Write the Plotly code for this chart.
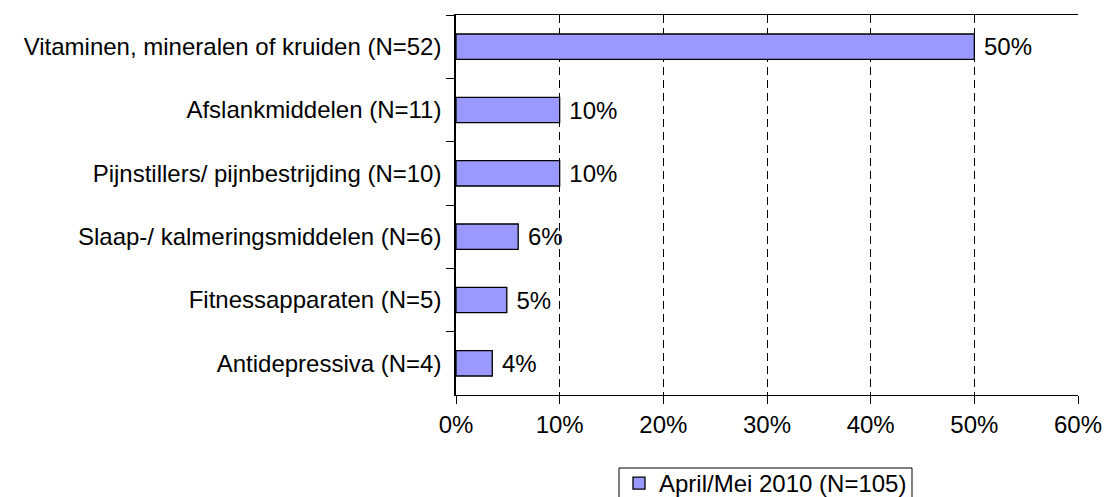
import plotly.graph_objects as go

categories = [
    "Vitaminen, mineralen of kruiden (N=52)",
    "Afslankmiddelen (N=11)",
    "Pijnstillers/ pijnbestrijding (N=10)",
    "Slaap-/ kalmeringsmiddelen (N=6)",
    "Fitnessapparaten (N=5)",
    "Antidepressiva (N=4)",
]
values = [50, 10, 10, 6, 4.9, 3.5]
labels = ["50%", "10%", "10%", "6%", "5%", "4%"]
series_name = "April/Mei 2010 (N=105)"
x_tickvals = [0, 10, 20, 30, 40, 50, 60]
x_ticktext = ["0%", "10%", "20%", "30%", "40%", "50%", "60%"]

FONT = "Liberation Sans, Arial, sans-serif"
PL, PR, PT, PB = 456, 1078, 15, 395
PW, PH = PR - PL, PB - PT

fig = go.Figure()
fig.add_trace(go.Bar(
    y=categories,
    x=values,
    orientation="h",
    name=series_name,
    marker=dict(color="#9999FF", line=dict(color="black", width=1.3)),
    text=labels,
    texttemplate=" %{text}",
    textposition="outside",
    constraintext="none",
    textfont=dict(family=FONT, size=24, color="black"),
    cliponaxis=False,
))

# legend frame (open at the bottom edge like the reference)
fig.add_shape(
    type="rect", xref="paper", yref="paper",
    x0=(619 - PL) / PW, x1=(912 - PL) / PW,
    y0=(PB - 505) / PH, y1=(PB - 468) / PH,
    line=dict(color="black", width=1), fillcolor="rgba(0,0,0,0)",
)

fig.update_layout(
    width=1105,
    height=497,
    margin=dict(l=PL, r=1105 - PR, t=PT, b=497 - PB, autoexpand=False),
    paper_bgcolor="white",
    plot_bgcolor="white",
    bargap=0.6,
    showlegend=True,
    font=dict(family=FONT, size=24, color="black"),
    legend=dict(
        x=(619 - PL) / PW,
        xanchor="left",
        y=(PB - 461) / PH,
        yanchor="top",
        orientation="h",
        borderwidth=0,
        font=dict(family=FONT, size=24, color="black"),
        bgcolor="rgba(0,0,0,0)",
    ),
    xaxis=dict(
        range=[0, 60],
        tickvals=x_tickvals,
        ticktext=x_ticktext,
        showgrid=True,
        gridcolor="black",
        gridwidth=1,
        griddash="8px,5px",
        zeroline=False,
        showline=True,
        linecolor="black",
        linewidth=1,
        mirror=True,
        ticks="outside",
        ticklen=8,
        tickcolor="black",
        automargin=False,
        tickfont=dict(family=FONT, size=24, color="black"),
    ),
    yaxis=dict(
        autorange="reversed",
        showline=True,
        linecolor="black",
        linewidth=1.5,
        ticks="outside",
        tickson="boundaries",
        ticklen=8,
        tickcolor="black",
        ticklabelstandoff=8,
        showgrid=False,
        automargin=False,
        tickfont=dict(family=FONT, size=24, color="black"),
    ),
)

fig.write_html(
    "out.html",
    config={"displayModeBar": False},
    post_script="document.body.style.margin='0';document.body.style.overflow='hidden';",
)
